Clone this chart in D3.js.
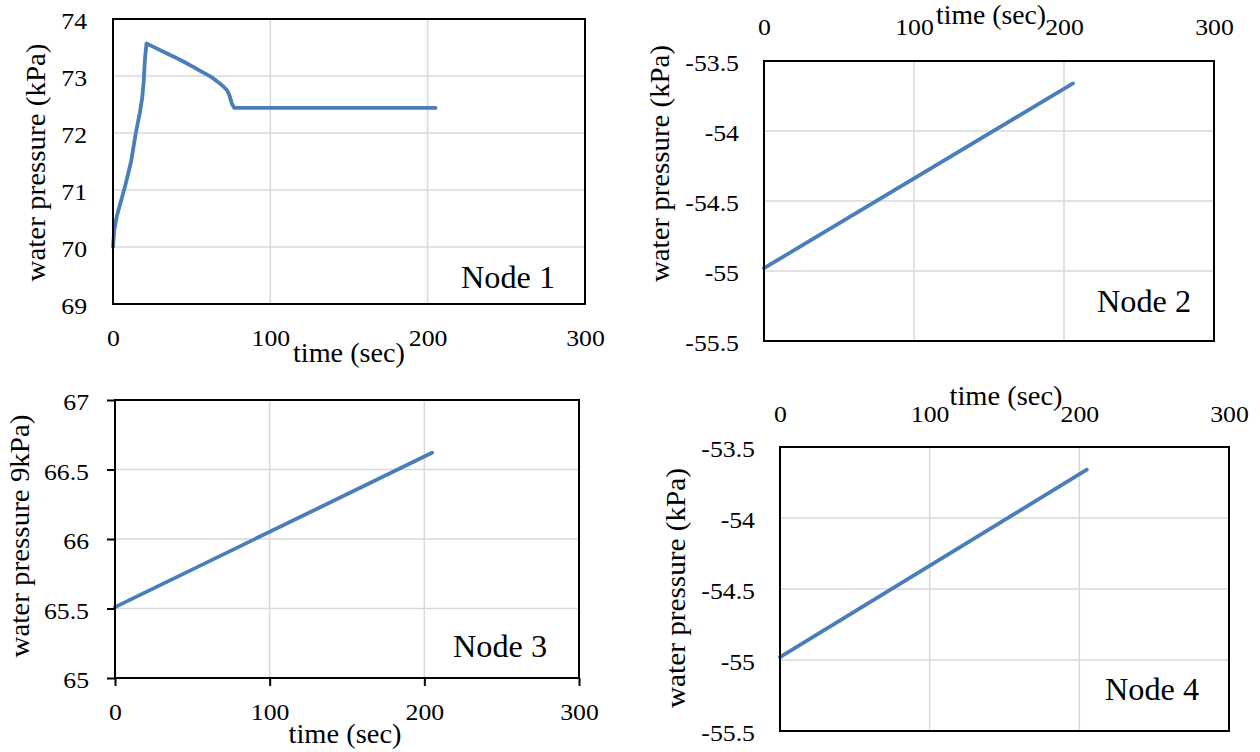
<!DOCTYPE html>
<html>
<head>
<meta charset="utf-8">
<script src="https://cdn.jsdelivr.net/npm/d3@7"></script>
<style>
  html, body { margin: 0; padding: 0; background: #ffffff; }
  svg { display: block; }
  text { font-family: "Liberation Serif", "Times New Roman", serif; fill: #000; }
</style>
</head>
<body>
<svg id="chart" width="1260" height="752"></svg>
<script>
// ---------------- data ----------------
const xTicks = [0, 100, 200, 300];

const node1Time     = [0, 0.8, 2.5, 5, 8, 11.5, 14.5, 17, 18.5, 19.5, 20.3, 21.3, 28, 34, 40, 45, 51, 56, 62, 66, 70, 72.5, 74, 75.5, 77, 205];
const node1Pressure = [70.0, 70.3, 70.55, 70.8, 71.1, 71.5, 72.0, 72.35, 72.6, 72.9, 73.3, 73.57, 73.48, 73.40, 73.32, 73.25, 73.16, 73.08, 72.99, 72.91, 72.82, 72.75, 72.66, 72.52, 72.44, 72.44];
const node1YTicks   = [69, 70, 71, 72, 73, 74];

const node2Time     = [0, 206];
const node2Pressure = [-54.98, -53.66];
const node2YTicks   = [-55.5, -55, -54.5, -54, -53.5];

const node3Time     = [0, 205];
const node3Pressure = [65.51, 66.62];
const node3YTicks   = [65, 65.5, 66, 66.5, 67];

const node4Time     = [0, 205];
const node4Pressure = [-54.98, -53.66];
const node4YTicks   = [-55.5, -55, -54.5, -54, -53.5];

const xTitle = "time (sec)";
const yTitleA = "water pressure (kPa)";
const yTitleB = "water pressure 9kPa)";
const nodeNames = ["Node 1", "Node 2", "Node 3", "Node 4"];

// ---------------- layout ----------------
const panels = [
  { left: 113, right: 585, top: 19, bottom: 304, time: node1Time, pres: node1Pressure, yTicks: node1YTicks,
    xPos: "bottom", xBase: 346, yLabRight: 87, tick: 0,
    xt: { x: 349, y: 362, len: 112 }, yt: { x: 45, y: 162.5, len: 238, text: yTitleA },
    node: { x: 461, y: 288, text: nodeNames[0] } },
  { left: 764, right: 1214, top: 61, bottom: 341, time: node2Time, pres: node2Pressure, yTicks: node2YTicks,
    xPos: "top", xBase: 35, yLabRight: 739, tick: 0,
    xt: { x: 991, y: 24, len: 110 }, yt: { x: 669, y: 163.5, len: 237, text: yTitleA },
    node: { x: 1097, y: 312, text: nodeNames[1] } },
  { left: 115, right: 579, top: 400, bottom: 678, time: node3Time, pres: node3Pressure, yTicks: node3YTicks,
    xPos: "bottom", xBase: 720, yLabRight: 89, tick: 8,
    xt: { x: 345, y: 743, len: 113 }, yt: { x: 28.5, y: 536, len: 243, text: yTitleB },
    node: { x: 453, y: 657, text: nodeNames[2] } },
  { left: 780, right: 1229, top: 447, bottom: 731, time: node4Time, pres: node4Pressure, yTicks: node4YTicks,
    xPos: "top", xBase: 422, yLabRight: 755, tick: 0,
    xt: { x: 1006, y: 405, len: 113 }, yt: { x: 685, y: 588, len: 240, text: yTitleA },
    node: { x: 1105, y: 700, text: nodeNames[3] } }
];

const svg = d3.select("#chart");
const TICK_FS = 23;
const FONT = '"Liberation Serif", "Times New Roman", serif';
const LINE_COLOR = "#4a7ebb";
const GRID_COLOR = "#d9d9d9";

function widen(sel, factor) {
  sel.each(function () {
    const w = this.getComputedTextLength();
    d3.select(this).attr("textLength", w * factor).attr("lengthAdjust", "spacingAndGlyphs");
  });
}

panels.forEach(p => {
  const x = d3.scaleLinear().domain([xTicks[0], xTicks[xTicks.length - 1]]).range([p.left, p.right]);
  const y = d3.scaleLinear().domain([p.yTicks[0], p.yTicks[p.yTicks.length - 1]]).range([p.bottom, p.top]);
  const g = svg.append("g");

  // gridlines
  g.append("g").selectAll("line").data(p.yTicks).join("line")
    .attr("x1", p.left).attr("x2", p.right)
    .attr("y1", d => y(d)).attr("y2", d => y(d))
    .attr("stroke", GRID_COLOR).attr("stroke-width", 1.5);
  g.append("g").selectAll("line").data(xTicks).join("line")
    .attr("y1", p.top).attr("y2", p.bottom)
    .attr("x1", d => x(d)).attr("x2", d => x(d))
    .attr("stroke", GRID_COLOR).attr("stroke-width", 1.5);

  // data line
  const pts = p.time.map((t, i) => [t, p.pres[i]]);
  g.append("path").datum(pts)
    .attr("fill", "none").attr("stroke", LINE_COLOR).attr("stroke-width", 3.8)
    .attr("stroke-linejoin", "round").attr("stroke-linecap", "round")
    .attr("d", d3.line().x(d => x(d[0])).y(d => y(d[1])));

  // frame
  g.append("rect")
    .attr("x", p.left).attr("y", p.top)
    .attr("width", p.right - p.left).attr("height", p.bottom - p.top)
    .attr("fill", "none").attr("stroke", "#000").attr("stroke-width", 2);

  // y axis
  const yAxis = d3.axisLeft(y).tickValues(p.yTicks).tickFormat(d => String(d))
    .tickSize(p.tick).tickPadding(p.left - p.yLabRight - p.tick);
  const ya = g.append("g").attr("transform", `translate(${p.left},0)`).call(yAxis);
  ya.attr("font-family", null).attr("font-size", null);
  ya.select(".domain").remove();
  ya.selectAll("line").attr("stroke", "#000").attr("stroke-width", 2);
  ya.selectAll("text").style("font-family", FONT).style("font-size", TICK_FS + "px")
    .attr("dy", "0.42em").attr("fill", "#000");
  widen(ya.selectAll("text"), 1.12);

  // x axis
  let xa;
  if (p.xPos === "bottom") {
    const xAxis = d3.axisBottom(x).tickValues(xTicks).tickFormat(d => String(d))
      .tickSize(p.tick).tickPadding(p.xBase - p.bottom - p.tick - 0.71 * TICK_FS);
    xa = g.append("g").attr("transform", `translate(0,${p.bottom})`).call(xAxis);
  } else {
    const xAxis = d3.axisTop(x).tickValues(xTicks).tickFormat(d => String(d))
      .tickSize(0).tickPadding(p.top - p.xBase);
    xa = g.append("g").attr("transform", `translate(0,${p.top})`).call(xAxis);
  }
  xa.attr("font-family", null).attr("font-size", null);
  xa.select(".domain").remove();
  xa.selectAll("line").attr("stroke", "#000").attr("stroke-width", 2);
  xa.selectAll("text").style("font-family", FONT).style("font-size", TICK_FS + "px").attr("fill", "#000");
  widen(xa.selectAll("text"), 1.12);

  // titles
  g.append("text")
    .attr("x", p.xt.x).attr("y", p.xt.y)
    .attr("text-anchor", "middle").style("font-size", "28px")
    .attr("textLength", p.xt.len).attr("lengthAdjust", "spacingAndGlyphs")
    .text(xTitle);
  g.append("text")
    .attr("transform", `translate(${p.yt.x},${p.yt.y}) rotate(-90)`)
    .attr("text-anchor", "middle").style("font-size", "28px")
    .attr("textLength", p.yt.len).attr("lengthAdjust", "spacingAndGlyphs")
    .text(p.yt.text);

  // node label
  g.append("text")
    .attr("x", p.node.x).attr("y", p.node.y)
    .style("font-size", "32px")
    .attr("textLength", 94).attr("lengthAdjust", "spacingAndGlyphs")
    .text(p.node.text);
});
</script>
</body>
</html>
